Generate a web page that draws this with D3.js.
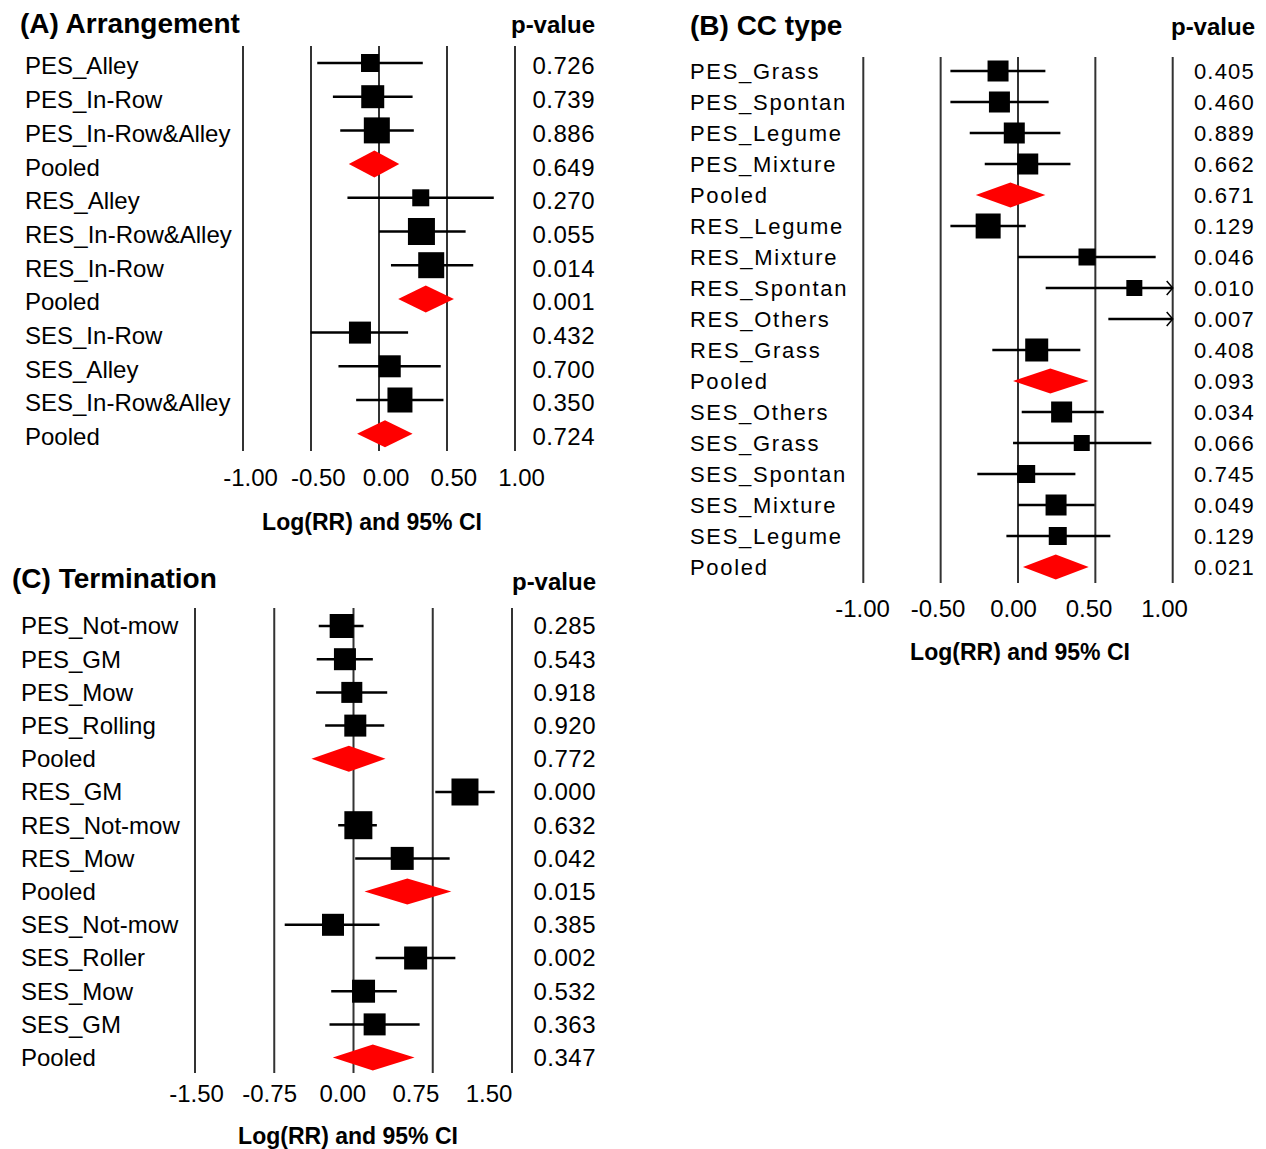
<!DOCTYPE html>
<html>
<head>
<meta charset="utf-8">
<script src="https://cdn.jsdelivr.net/npm/d3@7"></script>
<style>
body { margin: 0; background: #fff; }
svg { display: block; font-family: "Liberation Sans", Arial, sans-serif; }
</style>
</head>
<body>
<svg id="chart" width="1266" height="1149"></svg>
<script>
// (A) Arrangement
var labelsA = ["PES_Alley", "PES_In-Row", "PES_In-Row&Alley", "Pooled", "RES_Alley", "RES_In-Row&Alley",
  "RES_In-Row", "Pooled", "SES_In-Row", "SES_Alley", "SES_In-Row&Alley", "Pooled"];
var estA = [-0.066, -0.046, -0.016, -0.034, 0.307, 0.312, 0.384, 0.344, -0.140, 0.079, 0.154, 0.044];
var loA  = [-0.454, -0.339, -0.285, -0.222, -0.232, 0.000, 0.088, 0.141, -0.503, -0.298, -0.168, -0.161];
var hiA  = [0.322, 0.247, 0.256, 0.149, 0.844, 0.637, 0.693, 0.551, 0.214, 0.454, 0.474, 0.247];
var weightA = [18, 23, 26, null, 17, 27, 26, null, 22, 22, 25, null];
var pA = ["0.726", "0.739", "0.886", "0.649", "0.270", "0.055", "0.014", "0.001", "0.432", "0.700", "0.350", "0.724"];
var ticksA = [-1, -0.5, 0, 0.5, 1];

// (B) CC type
var labelsB = ["PES_Grass", "PES_Spontan", "PES_Legume", "PES_Mixture", "Pooled", "RES_Legume", "RES_Mixture",
  "RES_Spontan", "RES_Others", "RES_Grass", "Pooled", "SES_Others", "SES_Grass", "SES_Spontan", "SES_Mixture",
  "SES_Legume", "Pooled"];
var estB = [-0.129, -0.120, -0.024, 0.063, -0.049, -0.193, 0.446, 0.752, 1.250, 0.121, 0.209, 0.282, 0.412, 0.053, 0.246, 0.257, 0.244];
var loB  = [-0.437, -0.437, -0.312, -0.215, -0.273, -0.437, 0.000, 0.179, 0.584, -0.166, -0.032, 0.024, -0.032, -0.263, 0.000, -0.075, 0.032];
var hiB  = [0.177, 0.198, 0.274, 0.339, 0.177, 0.050, 0.890, 1.400, 1.900, 0.403, 0.457, 0.554, 0.862, 0.371, 0.496, 0.597, 0.457];
var weightB = [21, 21, 21, 21, null, 25, 17, 16, 16, 23, null, 21, 16, 18, 21, 18, null];
var pB = ["0.405", "0.460", "0.889", "0.662", "0.671", "0.129", "0.046", "0.010", "0.007", "0.408", "0.093",
  "0.034", "0.066", "0.745", "0.049", "0.129", "0.021"];
var ticksB = [-1, -0.5, 0, 0.5, 1];

// (C) Termination
var labelsC = ["PES_Not-mow", "PES_GM", "PES_Mow", "PES_Rolling", "Pooled", "RES_GM", "RES_Not-mow", "RES_Mow",
  "Pooled", "SES_Not-mow", "SES_Roller", "SES_Mow", "SES_GM", "Pooled"];
var estC = [-0.112, -0.081, -0.016, 0.017, -0.044, 1.055, 0.046, 0.461, 0.509, -0.194, 0.588, 0.095, 0.200, 0.183];
var loC  = [-0.329, -0.348, -0.354, -0.268, -0.398, 0.774, -0.145, 0.016, 0.104, -0.651, 0.209, -0.211, -0.227, -0.196];
var hiC  = [0.095, 0.183, 0.319, 0.291, 0.303, 1.336, 0.221, 0.910, 0.926, 0.246, 0.964, 0.410, 0.626, 0.578];
var weightC = [24, 22, 21, 22, null, 27, 28, 23, null, 22, 23, 23, 22, null];
var pC = ["0.285", "0.543", "0.918", "0.920", "0.772", "0.000", "0.632", "0.042", "0.015", "0.385", "0.002",
  "0.532", "0.363", "0.347"];
var ticksC = [-1.5, -0.75, 0, 0.75, 1.5];

var svg = d3.select("#chart");

function forestPanel(p) {
  var n = p.labels.length;
  var x = d3.scaleLinear().domain(p.domain).range(p.range);
  // tick labels in the original sit on their own, slightly shifted strip
  var xl = d3.scaleLinear().domain(p.domain).range(p.labelRange);
  var y = d3.scaleLinear().domain([0, n - 1]).range([p.top, p.top + (n - 1) * p.step]);
  var size = d3.scaleLinear().domain([0, 30]).range([0, 30]);
  var xmin = p.domain[0], xmax = p.domain[1];

  var rows = p.labels.map(function(l, i) {
    return {label: l, est: p.est[i], lo: p.lo[i], hi: p.hi[i], w: p.weight[i], pv: p.pv[i], i: i};
  });

  var g = svg.append("g");

  g.append("text")
    .attr("x", p.titleX).attr("y", p.titleY)
    .attr("font-size", 28).attr("font-weight", "bold")
    .text(p.title);
  g.append("text")
    .attr("x", p.pX).attr("y", p.headY)
    .attr("text-anchor", "end")
    .attr("font-size", 24).attr("font-weight", "bold")
    .text("p-value");

  // vertical grid lines
  g.append("g").selectAll("line")
    .data(p.ticks)
    .enter().append("line")
      .attr("x1", function(d) { return x(d); })
      .attr("x2", function(d) { return x(d); })
      .attr("y1", p.lineTop).attr("y2", p.lineBottom)
      .attr("stroke", "#333").attr("stroke-width", 2);

  // x axis labels
  var ax = g.append("g")
    .attr("transform", "translate(0," + p.tickY + ")")
    .call(d3.axisBottom(xl).tickValues(p.ticks).tickSize(0).tickPadding(0)
      .tickFormat(function(d) { return d.toFixed(2); }));
  ax.select(".domain").remove();
  ax.selectAll("text")
    .attr("font-family", "Liberation Sans, Arial, sans-serif")
    .attr("font-size", 24).attr("fill", "#000")
    .attr("dy", "0.35em").attr("y", 0);

  g.append("text")
    .attr("x", p.axisTitleX).attr("y", p.axisTitleY)
    .attr("text-anchor", "middle")
    .attr("font-size", 23).attr("font-weight", "bold")
    .text("Log(RR) and 95% CI");

  // row labels and p-values
  g.append("g").selectAll("text")
    .data(rows)
    .enter().append("text")
      .attr("x", p.labelX)
      .attr("y", function(d) { return y(d.i) + p.textShift; })
      .attr("dy", "0.35em")
      .attr("font-size", p.labelSize)
      .attr("letter-spacing", p.spacing)
      .text(function(d) { return d.label; });

  g.append("g").selectAll("text")
    .data(rows)
    .enter().append("text")
      .attr("x", p.pX)
      .attr("y", function(d) { return y(d.i) + p.textShift; })
      .attr("dy", "0.35em")
      .attr("text-anchor", "end")
      .attr("font-size", p.labelSize)
      .attr("letter-spacing", p.pSpacing)
      .text(function(d) { return d.pv; });

  var studies = rows.filter(function(d) { return d.w != null; });
  var pooled = rows.filter(function(d) { return d.w == null; });

  // CI lines
  g.append("g").selectAll("line")
    .data(studies)
    .enter().append("line")
      .attr("x1", function(d) { return x(Math.max(d.lo, xmin)); })
      .attr("x2", function(d) { return x(Math.min(d.hi, xmax)); })
      .attr("y1", function(d) { return y(d.i); })
      .attr("y2", function(d) { return y(d.i); })
      .attr("stroke", "#000").attr("stroke-width", 2.5);

  // arrows for CIs past the axis
  g.append("g").selectAll("path")
    .data(studies.filter(function(d) { return d.hi > xmax; }))
    .enter().append("path")
      .attr("d", function(d) {
        var xe = x(xmax), yy = y(d.i);
        return "M" + (xe - 6) + "," + (yy - 7) + "L" + xe + "," + yy + "L" + (xe - 6) + "," + (yy + 7);
      })
      .attr("fill", "none").attr("stroke", "#000").attr("stroke-width", 1.5);

  // squares
  g.append("g").selectAll("rect")
    .data(studies.filter(function(d) { return d.est >= xmin && d.est <= xmax; }))
    .enter().append("rect")
      .attr("x", function(d) { return x(d.est) - size(d.w) / 2; })
      .attr("y", function(d) { return y(d.i) - size(d.w) / 2; })
      .attr("width", function(d) { return size(d.w); })
      .attr("height", function(d) { return size(d.w); })
      .attr("fill", "#000");

  // pooled diamonds
  g.append("g").selectAll("polygon")
    .data(pooled)
    .enter().append("polygon")
      .attr("points", function(d) {
        var yy = y(d.i), h = p.diamondH / 2;
        return [[x(d.lo), yy], [x(d.est), yy - h], [x(d.hi), yy], [x(d.est), yy + h]].join(" ");
      })
      .attr("fill", "#ff0000");
}

forestPanel({
  title: "(A) Arrangement", titleX: 20, titleY: 33, headY: 33,
  labels: labelsA, est: estA, lo: loA, hi: hiA, weight: weightA, pv: pA, ticks: ticksA,
  domain: [-1, 1], range: [243, 515], labelRange: [250, 521], top: 63, step: 33.7,
  lineTop: 46, lineBottom: 451, tickY: 478, axisTitleX: 372, axisTitleY: 530,
  labelX: 25, pX: 595, labelSize: 24, spacing: 0, pSpacing: 0.5, textShift: 3, diamondH: 27
});

forestPanel({
  title: "(B) CC type", titleX: 690, titleY: 35, headY: 35,
  labels: labelsB, est: estB, lo: loB, hi: hiB, weight: weightB, pv: pB, ticks: ticksB,
  domain: [-1, 1], range: [863.3, 1172.7], labelRange: [862, 1164], top: 71, step: 31,
  lineTop: 57, lineBottom: 583, tickY: 609, axisTitleX: 1020, axisTitleY: 660,
  labelX: 690, pX: 1255, labelSize: 22, spacing: 1.7, pSpacing: 1.2, textShift: 0, diamondH: 25
});

forestPanel({
  title: "(C) Termination", titleX: 12, titleY: 588, headY: 590,
  labels: labelsC, est: estC, lo: loC, hi: hiC, weight: weightC, pv: pC, ticks: ticksC,
  domain: [-1.5, 1.5], range: [195, 512], labelRange: [196, 488.5], top: 626, step: 33.2,
  lineTop: 608, lineBottom: 1073, tickY: 1094, axisTitleX: 348, axisTitleY: 1144,
  labelX: 21, pX: 596, labelSize: 24, spacing: 0, pSpacing: 0.5, textShift: 0, diamondH: 26
});
</script>
</body>
</html>
